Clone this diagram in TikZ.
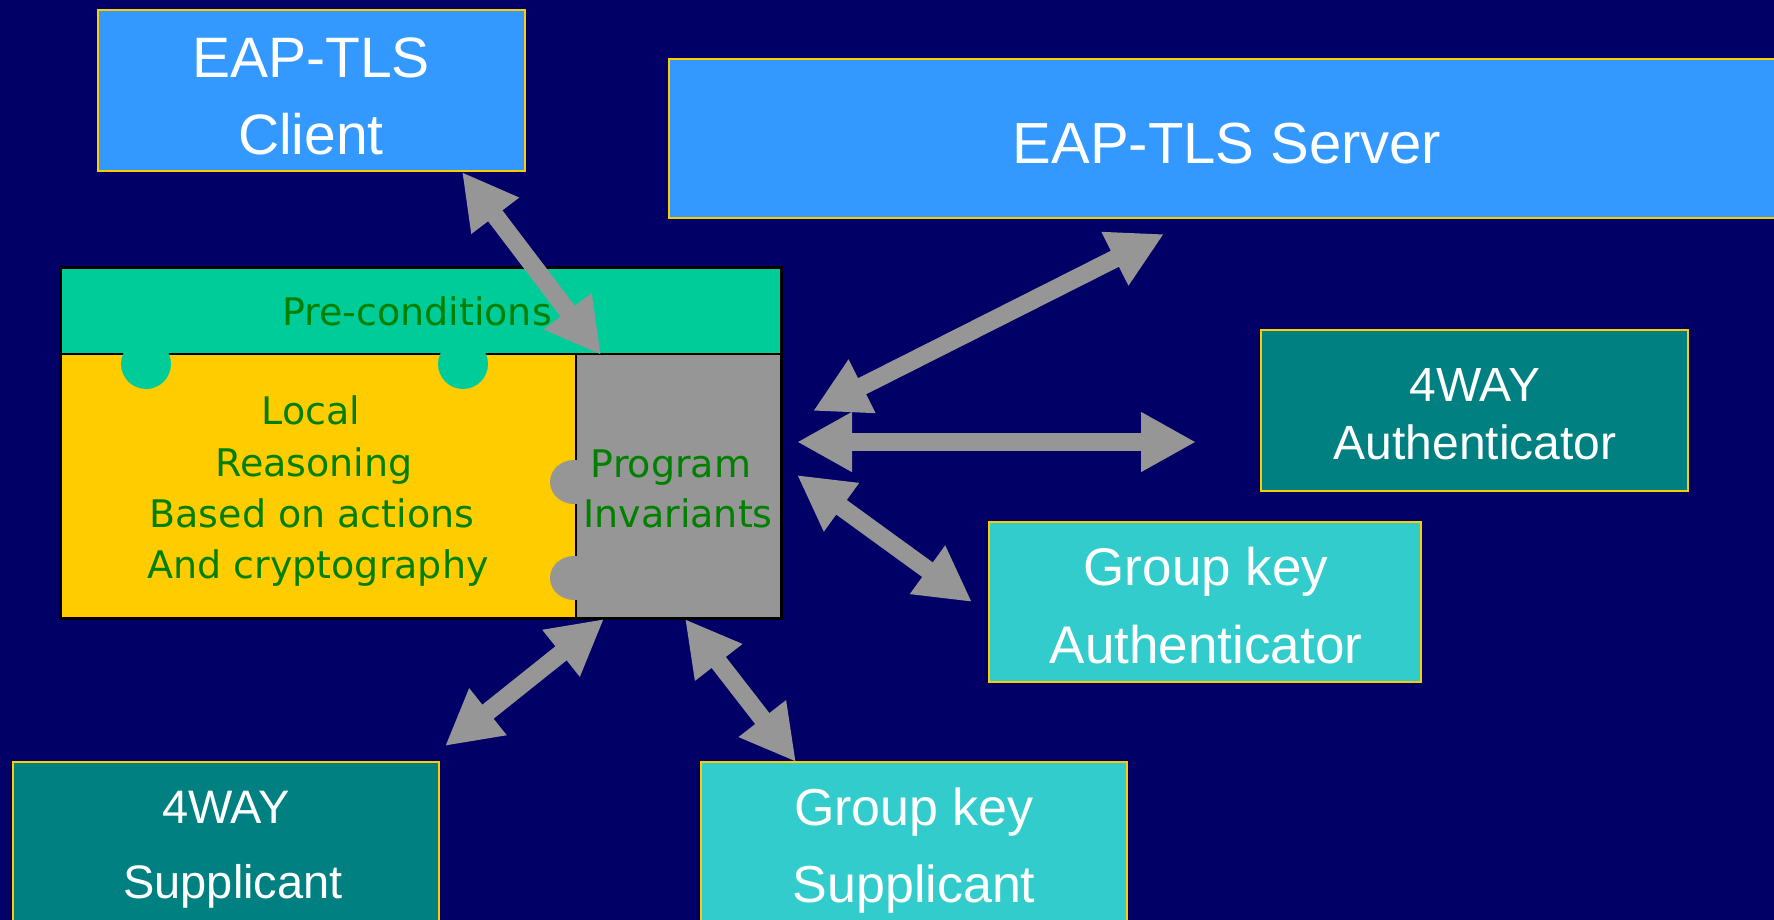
\documentclass[tikz,border=0pt]{standalone}
\usepackage{fontspec}
\setmainfont{Liberation Sans}
\newfontfamily\comicfont{DejaVu Sans}
\usetikzlibrary{arrows.meta}
\definecolor{bgnavy}{HTML}{000066}
\definecolor{lightblue}{HTML}{3399FF}
\definecolor{tealbox}{HTML}{008080}
\definecolor{turqbox}{HTML}{33CCCC}
\definecolor{goldline}{HTML}{FFCC00}
\definecolor{bandgreen}{HTML}{00CC99}
\definecolor{arrowgray}{HTML}{969696}
\definecolor{txtgreen}{HTML}{008000}
\definecolor{yellowbox}{HTML}{FFCC00}
\tikzset{
  box/.style={draw=goldline, line width=2pt, inner sep=0pt, rectangle},
  wtext/.style={text=white, anchor=base, inner sep=0pt},
  gtext/.style={text=txtgreen, anchor=base, inner sep=0pt, font=\comicfont\fontsize{38}{40}\selectfont},
  bigarrow/.style={draw=arrowgray, line width=18pt,
    {Triangle[length=55pt,width=56pt]}-{Triangle[length=55pt,width=56pt]}},
}
\begin{document}
\begin{tikzpicture}[x=1pt,y=-1pt]
\useasboundingbox (0,0) rectangle (1774,920);
\fill[bgnavy] (0,0) rectangle (1774,920);

% colored boxes
\node[box, fill=lightblue, minimum width=427pt, minimum height=161pt] (client) at (311.5,90.5) {};
\node[box, fill=lightblue, minimum width=1107pt, minimum height=159pt] (server) at (1222.5,138.5) {};
\node[box, fill=tealbox, minimum width=427pt, minimum height=161pt] (wayauth) at (1474.5,410.5) {};
\node[box, fill=turqbox, minimum width=432pt, minimum height=160pt] (gkauth) at (1205,602) {};
\node[box, fill=tealbox, minimum width=426pt, minimum height=170pt] (waysupp) at (226,847) {};
\node[box, fill=turqbox, minimum width=426pt, minimum height=170pt] (gksupp) at (914,847) {};

% box texts
\node[wtext, font=\fontsize{57}{60}\selectfont] (clientA) at (311,78) {EAP-TLS};
\node[wtext, font=\fontsize{57}{60}\selectfont] (clientB) at (311,155) {Client};
\node[wtext, font=\fontsize{58}{60}\selectfont] (serverA) at (1227,164) {EAP-TLS Server};
\node[wtext, font=\fontsize{48}{50}\selectfont] (wayauthA) at (1475,401) {4WAY};
\node[wtext, font=\fontsize{48}{50}\selectfont] (wayauthB) at (1475,459) {Authenticator};
\node[wtext, font=\fontsize{53}{55}\selectfont] (gkauthA) at (1206,585) {Group key};
\node[wtext, font=\fontsize{53}{55}\selectfont] (gkauthB) at (1206,663) {Authenticator};
\node[wtext, font=\fontsize{47}{50}\selectfont] (waysuppA) at (226,823) {4WAY};
\node[wtext, font=\fontsize{47}{50}\selectfont] (waysuppB) at (233,898) {Supplicant};
\node[wtext, font=\fontsize{52}{55}\selectfont] (gksuppA) at (914,825) {Group key};
\node[wtext, font=\fontsize{52}{55}\selectfont] (gksuppB) at (914,902) {Supplicant};

% central puzzle block
\fill[bandgreen] (60,267) rectangle (781,354);
\fill[yellowbox] (60,354) rectangle (576,618);
\fill[arrowgray] (576,354) rectangle (781,618);
\draw[black, line width=2.5pt] (60,354) -- (781,354);
\draw[black, line width=2pt] (576,354) -- (576,618);
\fill[bandgreen] (146,364) circle[radius=25];
\fill[bandgreen] (463,364) circle[radius=25];
\fill[arrowgray] (574,482) ellipse[x radius=24, y radius=22];
\fill[arrowgray] (574,578) ellipse[x radius=24, y radius=22];
\draw[black, line width=3pt] (60,267) rectangle (781,618);

\node[gtext] (pre) at (417,325) {Pre-conditions};
\node[gtext] (loc1) at (311,424) {Local};
\node[gtext] (loc2) at (314,476) {Reasoning};
\node[gtext] (loc3) at (312,527) {Based on actions};
\node[gtext] (loc4) at (318,578) {And cryptography};
\node[gtext] (inv1) at (671,477) {Program};
\node[gtext] (inv2) at (678,527) {Invariants};

% arrow end points
\coordinate (a1s) at (462,172); \coordinate (a1e) at (601,355);
\coordinate (a2s) at (1164,234); \coordinate (a2e) at (813,411);
\coordinate (a3s) at (797,442); \coordinate (a3e) at (1196,442);
\coordinate (a4s) at (797,475); \coordinate (a4e) at (972,602);
\coordinate (a5s) at (604,619); \coordinate (a5e) at (445,746);
\coordinate (a6s) at (685,619); \coordinate (a6e) at (796,762);

\draw[bigarrow] (a1s) -- (a1e);
\draw[bigarrow] (a2s) -- (a2e);
\draw[bigarrow] (a3s) -- (a3e);
\draw[bigarrow] (a4s) -- (a4e);
\draw[bigarrow] (a5s) -- (a5e);
\draw[bigarrow] (a6s) -- (a6e);
\end{tikzpicture}
\end{document}
